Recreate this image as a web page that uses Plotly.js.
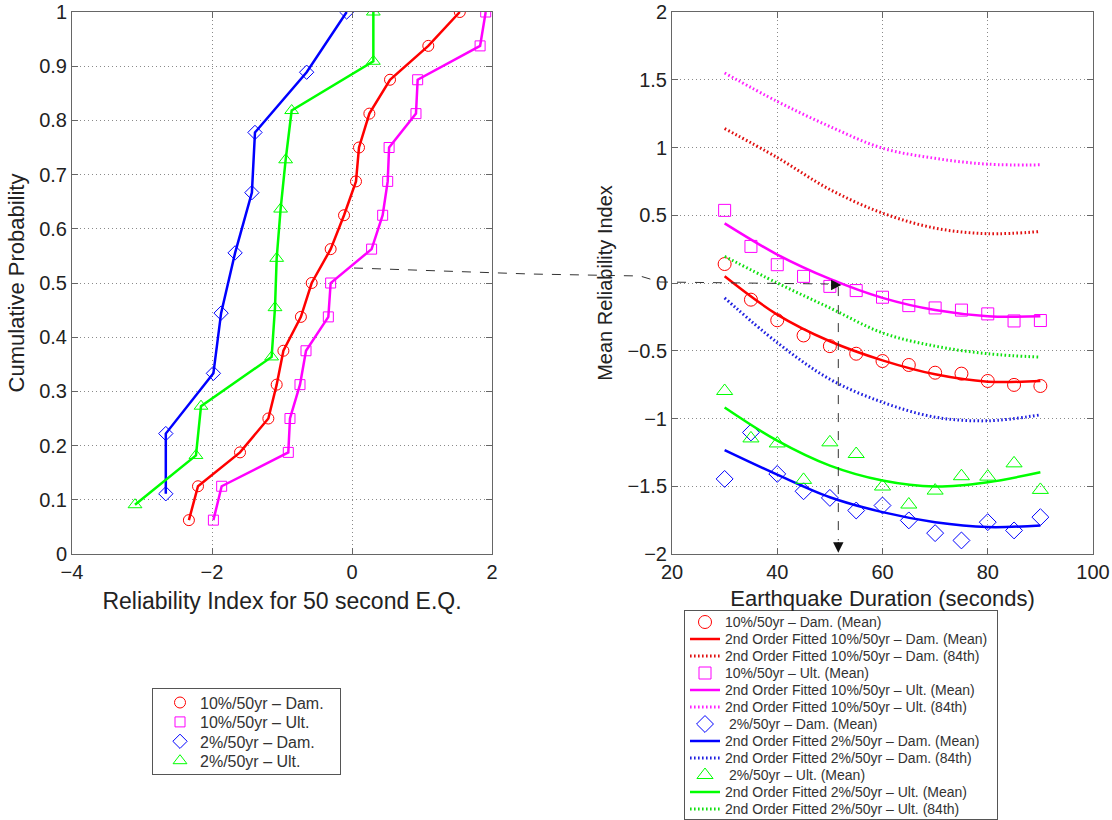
<!DOCTYPE html>
<html>
<head>
<meta charset="utf-8">
<script src="https://cdn.plot.ly/plotly-3.0.1.min.js"></script>
<style>html,body{margin:0;padding:0;background:#fff;}#chart{width:1112px;height:820px;}</style>
</head>
<body>
<div id="chart"></div>
<script>
// ---------- Left panel: cumulative probability vs reliability index (50 s EQ) ----------
var dam10_beta = [-2.33, -2.2, -1.6, -1.195, -1.076, -0.98, -0.73, -0.576, -0.305, -0.114, 0.057, 0.1, 0.248, 0.543, 1.09, 1.54];
var dam10_prob = [0.0625, 0.125, 0.1875, 0.25, 0.3125, 0.375, 0.4375, 0.5, 0.5625, 0.625, 0.6875, 0.75, 0.8125, 0.875, 0.9375, 1.0];
var ult10_beta = [-1.98, -1.862, -0.91, -0.886, -0.743, -0.657, -0.338, -0.305, 0.28, 0.438, 0.51, 0.53, 0.914, 0.938, 1.83, 1.91];
var ult10_prob = [0.0625, 0.125, 0.1875, 0.25, 0.3125, 0.375, 0.4375, 0.5, 0.5625, 0.625, 0.6875, 0.75, 0.8125, 0.875, 0.9375, 1.0];
var dam2_beta = [-2.66, -2.66, -1.98, -1.87, -1.67, -1.43, -1.386, -0.648, -0.076];
var dam2_prob = [0.1111, 0.2222, 0.3333, 0.4444, 0.5556, 0.6667, 0.7778, 0.8889, 1.0];
var ult2_beta = [-3.1, -2.229, -2.157, -1.148, -1.1, -1.076, -1.02, -0.948, -0.862, 0.305, 0.305];
var ult2_prob = [0.0909, 0.1818, 0.2727, 0.3636, 0.4545, 0.5455, 0.6364, 0.7273, 0.8182, 0.9091, 1.0];

// ---------- Right panel: mean reliability index vs duration ----------
var duration = [30, 35, 40, 45, 50, 55, 60, 65, 70, 75, 80, 85, 90];
var dam10_mean = [0.14, -0.123, -0.275, -0.387, -0.466, -0.522, -0.576, -0.605, -0.662, -0.669, -0.723, -0.752, -0.76];
var ult10_mean = [0.536, 0.27, 0.135, 0.049, -0.025, -0.056, -0.105, -0.167, -0.184, -0.2, -0.228, -0.28, -0.277];
var dam2_mean = [-1.446, -1.103, -1.409, -1.537, -1.586, -1.679, -1.642, -1.752, -1.846, -1.9, -1.765, -1.826, -1.728];
var ult2_mean = [-0.797, -1.147, -1.184, -1.453, -1.176, -1.262, -1.502, -1.635, -1.532, -1.426, -1.429, -1.331, -1.527];

var fitDuration = [30, 40, 50, 60, 70, 80, 90];
var fit_dam10_mean = [0.05, -0.233, -0.43, -0.571, -0.674, -0.728, -0.723];
var fit_dam10_84 = [1.14, 0.926, 0.69, 0.516, 0.405, 0.364, 0.38];
var fit_ult10_mean = [0.44, 0.21, 0.03, -0.11, -0.2, -0.245, -0.245];
var fit_ult10_84 = [1.55, 1.34, 1.155, 0.995, 0.92, 0.877, 0.872];
var fit_dam2_mean = [-1.233, -1.414, -1.581, -1.691, -1.765, -1.801, -1.789];
var fit_dam2_84 = [-0.11, -0.44, -0.71, -0.88, -0.99, -1.017, -0.973];
var fit_ult2_mean = [-0.919, -1.164, -1.348, -1.458, -1.502, -1.47, -1.397];
var fit_ult2_84 = [0.196, 0.0, -0.184, -0.368, -0.466, -0.522, -0.547];

var leftNames = ['10%/50yr \u2013 Dam.', '10%/50yr \u2013 Ult.', '2%/50yr \u2013 Dam.', '2%/50yr \u2013 Ult.'];
var rightNames = [
  '10%/50yr \u2013 Dam. (Mean)', '2nd Order Fitted 10%/50yr \u2013 Dam. (Mean)', '2nd Order Fitted 10%/50yr \u2013 Dam. (84th)',
  '10%/50yr \u2013 Ult. (Mean)', '2nd Order Fitted 10%/50yr \u2013 Ult. (Mean)', '2nd Order Fitted 10%/50yr \u2013 Ult. (84th)',
  ' 2%/50yr \u2013 Dam. (Mean)', '2nd Order Fitted 2%/50yr \u2013 Dam. (Mean)', '2nd Order Fitted 2%/50yr \u2013 Dam. (84th)',
  ' 2%/50yr \u2013 Ult. (Mean)', '2nd Order Fitted 2%/50yr \u2013 Ult. (Mean)', '2nd Order Fitted 2%/50yr \u2013 Ult. (84th)'
];

var RED = '#ff0000', MAG = '#ff00ff', BLUE = '#0000ff', GREEN = '#00ff00';
var colors = [RED, MAG, BLUE, GREEN];
var dotColors = ['#e01010', '#ff22ff', '#2020e0', '#10e010'];
var symbols = ['circle-open', 'square-open', 'diamond-open', 'triangle-up-open'];
var msizes = [11, 10, 11, 12];

var traces = [];
var leftX = [dam10_beta, ult10_beta, dam2_beta, ult2_beta];
var leftY = [dam10_prob, ult10_prob, dam2_prob, ult2_prob];
for (var i = 0; i < 4; i++) {
  traces.push({x: leftX[i], y: leftY[i], xaxis: 'x', yaxis: 'y', mode: 'lines',
    line: {color: colors[i], width: 2.5}, showlegend: false, hoverinfo: 'skip'});
}
for (var i = 0; i < 4; i++) {
  traces.push({x: leftX[i], y: leftY[i], xaxis: 'x', yaxis: 'y', mode: 'markers', name: leftNames[i],
    legend: 'legend2', marker: {symbol: symbols[i], size: msizes[i], color: colors[i], line: {width: 1, color: colors[i]}}});
}
var means = [dam10_mean, ult10_mean, dam2_mean, ult2_mean];
var fitsMean = [fit_dam10_mean, fit_ult10_mean, fit_dam2_mean, fit_ult2_mean];
var fits84 = [fit_dam10_84, fit_ult10_84, fit_dam2_84, fit_ult2_84];
for (var i = 0; i < 4; i++) {
  traces.push({x: duration, y: means[i], xaxis: 'x2', yaxis: 'y2', mode: 'markers', name: rightNames[3 * i],
    marker: {symbol: symbols[i], size: msizes[i] + 2, color: colors[i], line: {width: 1, color: colors[i]}}});
  traces.push({x: fitDuration, y: fitsMean[i], xaxis: 'x2', yaxis: 'y2', mode: 'lines', name: rightNames[3 * i + 1],
    line: {color: colors[i], width: 2.5, shape: 'spline', smoothing: 1}});
  traces.push({x: fitDuration, y: fits84[i], xaxis: 'x2', yaxis: 'y2', mode: 'lines', name: rightNames[3 * i + 2],
    line: {color: dotColors[i], width: 3, dash: '1.6px,2.4px', shape: 'spline', smoothing: 1}});
}

var W = 1112, H = 820;
function px(x) { return x / W; }
function py(y) { return 1 - y / H; }

var axisCommon = {
  showline: true, linecolor: '#666', linewidth: 1, mirror: 'ticks',
  ticks: 'inside', ticklen: 6, tickcolor: '#666', tickwidth: 1,
  showgrid: true, gridcolor: '#8a8a8a', griddash: '1px,3px', gridwidth: 1,
  zeroline: false, tickfont: {size: 20, color: '#222'}, fixedrange: true,
  ticklabeloverflow: 'allow', automargin: false
};
function ax(extra) { return Object.assign({}, axisCommon, extra); }

var layout = {
  width: W, height: H,
  margin: {l: 0, r: 0, t: 0, b: 0, autoexpand: false},
  paper_bgcolor: '#ffffff', plot_bgcolor: '#ffffff',
  font: {family: 'Liberation Sans, Arial, Helvetica, sans-serif', size: 20, color: '#222'},
  showlegend: true,
  xaxis: ax({domain: [px(72), px(492)], range: [-4, 2], dtick: 2, tick0: -4, anchor: 'y',
    title: {text: 'Reliability Index for 50 second E.Q.', font: {size: 23}, standoff: 10}}),
  yaxis: ax({domain: [py(554), py(12)], range: [0, 1], dtick: 0.1, tick0: 0, anchor: 'x',
    title: {text: 'Cumulative Probability', font: {size: 22}, standoff: 8}}),
  xaxis2: ax({domain: [px(672), px(1093)], range: [20, 100], dtick: 20, tick0: 20, anchor: 'y2',
    title: {text: 'Earthquake Duration (seconds)', font: {size: 22}, standoff: 8}}),
  yaxis2: ax({domain: [py(554), py(12)], range: [-2, 2], dtick: 0.5, tick0: -2, anchor: 'x2',
    title: {text: 'Mean Reliability Index', font: {size: 20}, standoff: 9}}),
  legend: {x: px(684), y: py(610), xanchor: 'left', yanchor: 'top', bgcolor: '#ffffff',
    bordercolor: '#555', borderwidth: 1, font: {size: 14, color: '#333'}, tracegroupgap: 0, itemwidth: 30},
  legend2: {x: px(152), y: py(688), xanchor: 'left', yanchor: 'top', bgcolor: '#ffffff',
    bordercolor: '#555', borderwidth: 1, font: {size: 16, color: '#333'}, tracegroupgap: 0, itemwidth: 30},
  shapes: [
    {type: 'path', xref: 'paper', yref: 'paper',
     path: 'M ' + px(354) + ',' + py(268) + ' L ' + px(530) + ',' + py(274) + ' L ' + px(640) + ',' + py(276) +
           ' L ' + px(660) + ',' + py(282) + ' L ' + px(828) + ',' + py(284),
     line: {color: '#333', width: 1, dash: 'dash'}},
    {type: 'line', xref: 'x2', yref: 'y2', x0: 51.6, x1: 51.6, y0: -0.03, y1: -1.9,
     line: {color: '#333', width: 1, dash: 'dash'}}
  ],
  annotations: [
    {xref: 'x2', yref: 'y2', x: 52.2, y: -0.015, axref: 'pixel', ayref: 'pixel', ax: -12, ay: 0, text: '',
     showarrow: true, arrowhead: 2, arrowsize: 1.6, arrowwidth: 1.3, arrowcolor: '#111'},
    {xref: 'x2', yref: 'y2', x: 51.6, y: -1.99, axref: 'pixel', ayref: 'pixel', ax: 0, ay: -12, text: '',
     showarrow: true, arrowhead: 2, arrowsize: 1.6, arrowwidth: 1.3, arrowcolor: '#111'}
  ]
};

function parseT(el) {
  var t = el.getAttribute('transform') || '';
  var m = t.match(/translate\(\s*([-\d.e]+)[\s,]*([-\d.e]+)?\s*\)/);
  if (!m) return [0, 0];
  return [parseFloat(m[1]) || 0, parseFloat(m[2]) || 0];
}
// tighten legend row spacing to match the reference box
function compactLegend(cls, rowH, topPad, bottomPad, xShift, boxW) {
  var lg = document.querySelector('g.' + cls);
  if (!lg) return;
  var items = Array.prototype.slice.call(lg.querySelectorAll('g.traces'));
  if (!items.length) return;
  var ys = items.map(function (el) {
    var y = parseT(el)[1];
    var p = el.parentNode;
    if (p && p.classList && p.classList.contains('groups')) y += parseT(p)[1];
    return y;
  });
  items.forEach(function (el, k) {
    var d = (topPad + k * rowH) - ys[k];
    var t = parseT(el);
    el.setAttribute('transform', 'translate(' + (t[0] + xShift) + ',' + (t[1] + d) + ')');
  });
  var newH = topPad + (items.length - 1) * rowH + bottomPad;
  var bg = lg.querySelector('rect.bg');
  if (bg) {
    bg.setAttribute('height', newH);
    if (boxW) bg.setAttribute('width', boxW);
  }
  var sb = lg.querySelector('g.scrollbox');
  if (sb) {
    var cp = sb.getAttribute('clip-path') || '';
    var m = cp.match(/#([^)"']+)/);
    if (m) {
      var r = document.querySelector('[id="' + m[1] + '"] rect');
      if (r) {
        r.setAttribute('height', newH);
        if (boxW) r.setAttribute('width', boxW);
      }
    }
  }
}

Plotly.newPlot('chart', traces, layout, {displayModeBar: false, staticPlot: true}).then(function () {
  compactLegend('legend', 17, 12, 10, 0, 313);
  compactLegend('legend2', 19.4, 14.5, 13.5, 7, 188);
});
</script>
</body>
</html>
